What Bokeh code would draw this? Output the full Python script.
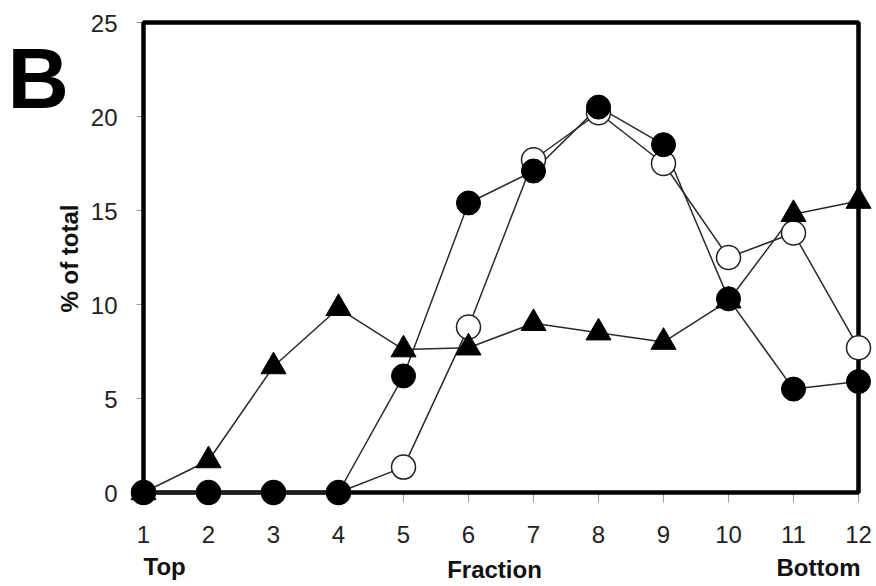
import math
from bokeh.plotting import figure
from bokeh.models import Range1d, BoxAnnotation, Label
from bokeh.embed import file_html
from bokeh.resources import INLINE

# ---- data ----
fractions = [1, 2, 3, 4, 5, 6, 7, 8, 9, 10, 11, 12]
filled_circles = [0, 0, 0, 0, 6.2, 15.4, 17.1, 20.5, 18.5, 10.3, 5.5, 5.9]
open_circles = [0, 0, 0, 0, 1.35, 8.8, 17.7, 20.2, 17.5, 12.5, 13.8, 7.7]
triangles = [0, 1.7, 6.7, 9.8, 7.6, 7.7, 9.0, 8.5, 8.0, 10.2, 14.8, 15.5]
x_tick_labels = [str(f) for f in fractions]
y_ticks = [0, 5, 10, 15, 20, 25]
y_tick_labels = [str(t) for t in y_ticks]
x_min, x_max = 1, 12
y_min, y_max = 0, 25

FONT = "Liberation Sans"
W, H = 876, 586

# pixel geometry of the data box inside the canvas
box_left_px, box_right_px, box_top_px, box_bottom_px = 143, 858, 22, 492
px_x = (box_right_px - box_left_px) / (x_max - x_min)
px_y = (box_bottom_px - box_top_px) / (y_max - y_min)

# the frame covers the whole canvas, so nothing (markers, texts) is clipped
p = figure(
    width=W, height=H,
    x_range=Range1d(x_min - box_left_px / px_x, x_max + (W - box_right_px) / px_x),
    y_range=Range1d(y_min - (H - box_bottom_px) / px_y, y_max + box_top_px / px_y),
    x_axis_location=None, y_axis_location=None,
    output_backend="svg", toolbar_location=None,
    min_border=0,
)
p.background_fill_color = "white"
p.border_fill_color = "white"
p.outline_line_color = None
p.grid.visible = False

# frame box around the data area
box = BoxAnnotation(left=x_min, right=x_max, bottom=y_min, top=y_max,
                    fill_color=None, fill_alpha=0, line_color="black", line_alpha=1,
                    line_width=4.5, level="underlay")
p.add_layout(box)

# tick marks (outside the box)
tick_col = "#9a9a9a"
xt_len = 10 / px_y
yt_len = 7 / px_x
p.segment(x0=fractions, y0=[y_min] * len(fractions), x1=fractions,
          y1=[y_min - xt_len] * len(fractions), line_color=tick_col, line_width=1,
          level="underlay")
p.segment(x0=[x_min - yt_len] * len(y_ticks), y0=y_ticks, x1=[x_min] * len(y_ticks),
          y1=y_ticks, line_color=tick_col, line_width=1, level="underlay")

# tick labels
p.text(x=fractions, y=[y_min] * len(fractions), text=x_tick_labels,
       text_font={"value": FONT}, text_font_size="24px", text_color="#222222",
       text_align="center", text_baseline="middle", y_offset=42)
p.text(x=[x_min] * len(y_ticks), y=y_ticks, text=y_tick_labels,
       text_font={"value": FONT}, text_font_size="24px", text_color="#222222",
       text_align="right", text_baseline="middle", x_offset=-26, y_offset=1)

# lines
lc = "#2a2a2a"
p.line(fractions, open_circles, line_color=lc, line_width=1.5)
p.line(fractions, triangles, line_color=lc, line_width=1.5)
p.line(fractions, filled_circles, line_color=lc, line_width=1.5)

# markers
p.scatter(fractions, open_circles, marker="circle", size=24,
          fill_color="white", line_color="#222222", line_width=1.5)
p.scatter(fractions, triangles, marker="triangle", size=25,
          fill_color="black", line_color="black", line_width=1)
p.scatter(fractions, filled_circles, marker="circle", size=24,
          fill_color="black", line_color="black", line_width=1)

# texts (screen units: from the canvas' bottom-left corner), anchored at their middle
p.add_layout(Label(x=7, y=H - 78, x_units="screen", y_units="screen", text="B",
                   text_font=FONT, text_font_style="bold", text_font_size="85px",
                   text_color="black", text_baseline="middle", text_align="left"))
p.add_layout(Label(x=69, y=H - 258, x_units="screen", y_units="screen", text="% of total",
                   angle=math.pi / 2,
                   text_font=FONT, text_font_style="bold", text_font_size="24px",
                   text_color="#111111", text_baseline="middle", text_align="center"))
for txt, xx, yy, al in (("Top", 143, H - 566, "left"),
                        ("Fraction", 494, H - 569, "center"),
                        ("Bottom", 860, H - 567, "right")):
    p.add_layout(Label(x=xx, y=yy, x_units="screen", y_units="screen", text=txt,
                       text_font=FONT, text_font_style="bold", text_font_size="24px",
                       text_color="#111111", text_baseline="middle", text_align=al))

open("out.html", "w").write(file_html(p, INLINE))
